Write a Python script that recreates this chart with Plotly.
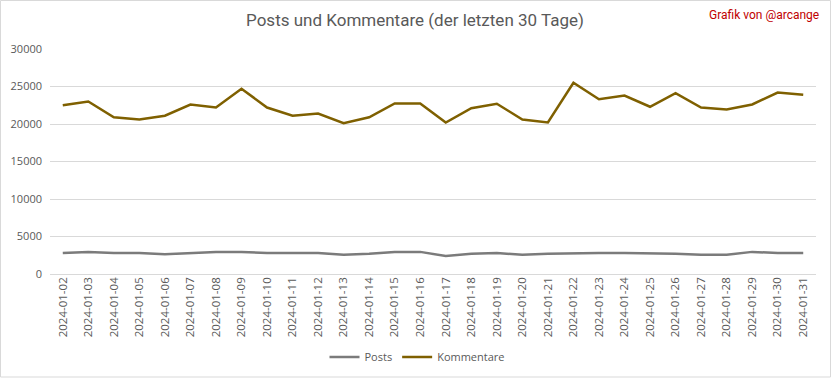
import plotly.graph_objects as go

dates = [f"2024-01-{d:02d}" for d in range(2, 32)]
posts = [2800, 2950, 2800, 2800, 2650, 2800, 2950, 2950, 2800, 2800,
         2800, 2560, 2700, 2950, 2950, 2400, 2700, 2800, 2560, 2700,
         2800, 2800, 2800, 2800, 2700, 2560, 2560, 2950, 2800, 2800]
kommentare = [22500, 23000, 20900, 20600, 21100, 22600, 22200, 24700, 22200, 21100,
              21400, 20100, 20900, 22750, 22750, 20200, 22100, 22700, 20600, 20200,
              25500, 23300, 23800, 22300, 24100, 22200, 21950, 22600, 24200, 23900]
y_ticks = [0, 5000, 10000, 15000, 20000, 25000, 30000]

L, R, T, B = 50, 16, 49, 104
W, H = 832, 378
pw, ph = W - L - R, H - T - B

def px(x):
    return (x - L) / pw

def py(y):
    return (H - B - y) / ph

fig = go.Figure()
fig.add_trace(go.Scatter(x=dates, y=posts, mode="lines", name="Posts",
                         line=dict(color="#7b7b7b", width=2.5)))
fig.add_trace(go.Scatter(x=dates, y=kommentare, mode="lines", name="Kommentare",
                         line=dict(color="#7f6000", width=2.5)))

fig.update_layout(
    width=W, height=H,
    margin=dict(l=L, r=R, t=T, b=B),
    paper_bgcolor="white", plot_bgcolor="white",
    font=dict(family="Open Sans, sans-serif", color="#595959", size=11),
    title=dict(text="Posts und Kommentare (der letzten 30 Tage)",
               font=dict(family="Roboto, sans-serif", size=17, color="#595959"),
               x=px(415), xanchor="center", xref="paper",
               y=1 - 20 / H, yanchor="middle"),
    xaxis=dict(type="category", range=[-0.5, 29.5], tickangle=-90,
               showgrid=False, showline=False, ticks="", automargin=False,
               tickfont=dict(size=11.5, color="#595959"), fixedrange=True),
    yaxis=dict(range=[0, 30000], tickvals=y_ticks, showgrid=True, gridcolor="#d9d9d9",
               gridwidth=1, zeroline=True, zerolinecolor="#d9d9d9", zerolinewidth=1,
               showline=False, ticks="", tickformat="d", automargin=False,
               ticklabelstandoff=7,
               tickfont=dict(size=11, color="#595959")),
    showlegend=True,
    legend=dict(orientation="h", xref="container", yref="container",
                x=417 / W, xanchor="center", y=1 - 357 / H, yanchor="middle",
                font=dict(size=11, color="#595959"), bgcolor="rgba(0,0,0,0)"),
    annotations=[dict(text="Grafik von @arcange", xref="paper", yref="paper",
                      x=px(821), y=py(15), xanchor="right", yanchor="middle",
                      showarrow=False,
                      font=dict(family="Roboto, sans-serif", size=12, color="#c00000"))],
    shapes=[dict(type="rect", xref="paper", yref="paper",
                 x0=px(0.5), x1=px(830.5), y0=py(377), y1=py(0.5),
                 line=dict(color="#d9d9d9", width=1), fillcolor="rgba(0,0,0,0)", layer="below")],
)

fig.write_html("out.html", config={"displayModeBar": False},
               post_script="document.body.style.margin='0';document.body.style.overflow='hidden';")
